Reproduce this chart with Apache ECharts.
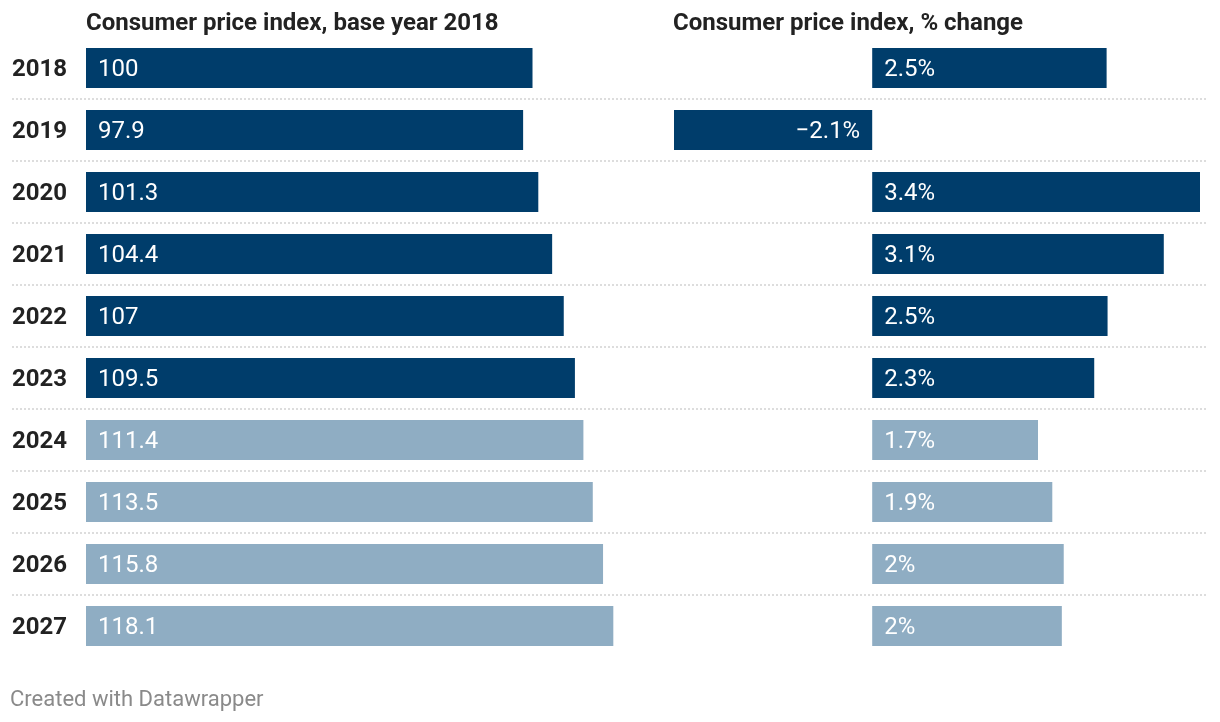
<!DOCTYPE html>
<html><head><meta charset="utf-8">
<script src="https://cdn.jsdelivr.net/npm/echarts@6/dist/echarts.min.js"></script>
<style>html,body{margin:0;padding:0;background:#fff}#c{width:1220px;height:722px}</style>
</head><body><div id="c"></div>
<script>
const years = ['2018','2019','2020','2021','2022','2023','2024','2025','2026','2027'];
const cpiIndex = [100, 97.9, 101.3, 104.4, 107, 109.5, 111.4, 113.5, 115.8, 118.1];
const cpiChange = [2.46, -2.08, 3.44, 3.06, 2.47, 2.33, 1.74, 1.89, 2.01, 1.99];
const isForecast = [false,false,false,false,false,false,true,true,true,true];
const titleLeft = 'Consumer price index, base year 2018';
const titleRight = 'Consumer price index, % change';
const footer = 'Created with Datawrapper';

const DARK = '#003d6b', LIGHT = '#8fadc3';
const FONT = 'Roboto';
const TOP = 37, H = 620;
const LEFT_X = 86, PX_PER_IDX = 4.465, LEFT_MAX = 130;
const RIGHT_MIN = -2.08, RIGHT_MAX = 3.44, RIGHT_X = 674, RIGHT_W = 526;

function fmtPct(v){
  const r = Math.round(v*10)/10;
  return (r < 0 ? '\u2212' + Math.abs(r) : String(r)) + '%';
}

const chart = echarts.init(document.getElementById('c'), null, {renderer:'canvas'});
chart.setOption({
  animation:false,
  textStyle:{fontFamily:FONT},
  title:[
    {text:titleLeft, left:86, top:12, padding:0, textStyle:{fontFamily:FONT, fontSize:24, fontWeight:'bold', color:'#222'}},
    {text:titleRight, left:673, top:12, padding:0, textStyle:{fontFamily:FONT, fontSize:24, fontWeight:'bold', color:'#222'}},
    {text:footer, left:10, top:689, padding:0, textStyle:{fontFamily:FONT, fontSize:22, fontWeight:'normal', color:'#8a8a8a'}}
  ],
  grid:[
    {left:LEFT_X, top:TOP, width:PX_PER_IDX*LEFT_MAX, height:H},
    {left:RIGHT_X, top:TOP, width:RIGHT_W, height:H},
    {left:12, top:TOP, width:1196, height:H}
  ],
  xAxis:[
    {gridIndex:0, type:'value', min:0, max:LEFT_MAX, show:false},
    {gridIndex:1, type:'value', min:RIGHT_MIN, max:RIGHT_MAX, show:false},
    {gridIndex:2, type:'value', min:0, max:1, show:false}
  ],
  yAxis:[
    {gridIndex:0, type:'category', data:years, inverse:true,
     axisLine:{show:false}, axisTick:{show:false}, splitLine:{show:false},
     axisLabel:{margin:19, formatter:v=>'{y|' + v + '}',
       rich:{y:{fontFamily:FONT, fontSize:24, fontWeight:'bold', color:'#222', padding:[4,0,0,0]}}}},
    {gridIndex:1, type:'category', data:years, inverse:true, show:false},
    {gridIndex:2, type:'value', min:0, max:years.length, interval:1, inverse:true,
     axisLine:{show:false}, axisTick:{show:false}, axisLabel:{show:false},
     splitLine:{show:true, showMinLine:false, showMaxLine:false,
       lineStyle:{color:'#d2d2d2', width:1.5, type:[2,2]}}}
  ],
  series:[
    {type:'bar', xAxisIndex:0, yAxisIndex:0, barWidth:40,
     data:cpiIndex.map((v,i)=>({value:v, itemStyle:{color:isForecast[i]?LIGHT:DARK}})),
     label:{show:true, position:'insideLeft', distance:12, offset:[0,2], color:'#fff', fontFamily:FONT, fontSize:24,
       formatter:p=>String(p.value)}},
    {type:'bar', xAxisIndex:1, yAxisIndex:1, barWidth:40,
     data:cpiChange.map((v,i)=>({value:v, itemStyle:{color:isForecast[i]?LIGHT:DARK},
       label:{position: v<0 ? 'insideRight' : 'insideLeft'}})),
     label:{show:true, distance:12, offset:[0,2], color:'#fff', fontFamily:FONT, fontSize:24,
       formatter:p=>fmtPct(p.value)}}
  ]
});
</script></body></html>
